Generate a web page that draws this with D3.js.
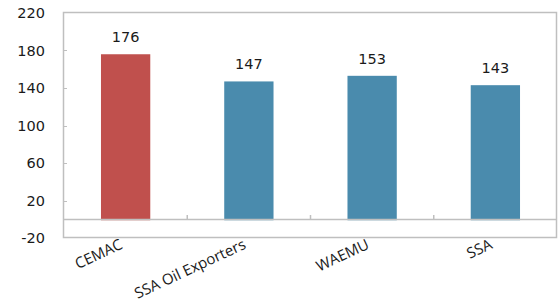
<!DOCTYPE html>
<html>
<head>
<meta charset="utf-8">
<script src="https://cdn.jsdelivr.net/npm/d3@7"></script>
<style>
  body { margin: 0; background: #fff; }
  svg { display: block; }
</style>
</head>
<body>
<svg id="chart" width="558" height="304"></svg>
<script>
//
// Data
//
const categories = ["CEMAC", "SSA Oil Exporters", "WAEMU", "SSA"];
const values = [176, 147, 153, 143];
const barColors = ["#c0504d", "#4a8bad", "#4a8bad", "#4a8bad"];
const yTicks = [-20, 20, 60, 100, 140, 180, 220];

//
// Layout
//
const width = 558, height = 304;
const plot = { left: 64, right: 557, top: 13, bottom: 238 };
const gridColor = "#bfbfbf";
const numFont = "DejaVu Sans";
const catFont = "Open Sans";

const svg = d3.select("#chart");

const x = d3.scaleBand()
  .domain(categories)
  .range([plot.left, plot.right])
  .paddingInner(0.6)
  .paddingOuter(0.3);

const y = d3.scaleLinear()
  .domain([-20, 220])
  .range([plot.bottom, plot.top]);

// frame around plot area
svg.append("rect")
  .attr("x", plot.left - 0.5)
  .attr("y", plot.top - 0.5)
  .attr("width", plot.right - plot.left)
  .attr("height", plot.bottom - plot.top)
  .attr("fill", "none")
  .attr("stroke", gridColor)
  .attr("stroke-width", 1.5);

// y axis (plain hyphen for negatives, like the original)
const yAxis = d3.axisLeft(y).tickValues(yTicks).tickFormat(d => String(d)).tickSize(0).tickPadding(19);
const gy = svg.append("g")
  .attr("transform", `translate(${plot.left},0)`)
  .call(yAxis);
gy.select(".domain").remove();
gy.selectAll("text")
  .attr("font-family", numFont)
  .attr("font-size", 14.5)
  .attr("fill", "#1a1a1a");

// small inner ticks on the left axis
svg.append("g")
  .selectAll("line")
  .data(yTicks.slice(1, -1))
  .join("line")
  .attr("x1", plot.left)
  .attr("x2", plot.left + 3)
  .attr("y1", d => Math.round(y(d)) + 0.5)
  .attr("y2", d => Math.round(y(d)) + 0.5)
  .attr("stroke", gridColor);

// bars
svg.append("g")
  .selectAll("rect")
  .data(values)
  .join("rect")
  .attr("x", (d, i) => x(categories[i]))
  .attr("y", d => y(d))
  .attr("width", x.bandwidth())
  .attr("height", d => y(0) - y(d) + 1)
  .attr("fill", (d, i) => barColors[i]);

// category axis at zero
svg.append("line")
  .attr("x1", plot.left)
  .attr("x2", plot.right)
  .attr("y1", Math.round(y(0)) + 0.5)
  .attr("y2", Math.round(y(0)) + 0.5)
  .attr("stroke", gridColor)
  .attr("stroke-width", 1.5);

svg.append("g")
  .selectAll("line")
  .data(categories.slice(1))
  .join("line")
  .attr("x1", d => x(d) - x.bandwidth() * 0.75)
  .attr("x2", d => x(d) - x.bandwidth() * 0.75)
  .attr("y1", Math.round(y(0)))
  .attr("y2", Math.round(y(0)) - 4)
  .attr("stroke", gridColor)
  .attr("stroke-width", 1.5);

// value labels
svg.append("g")
  .selectAll("text")
  .data(values)
  .join("text")
  .attr("x", (d, i) => x(categories[i]) + x.bandwidth() / 2)
  .attr("y", d => y(d) - 12)
  .attr("text-anchor", "middle")
  .attr("font-family", numFont)
  .attr("font-size", 14.5)
  .attr("fill", "#1a1a1a")
  .text(d => d);

// category labels, rotated
svg.append("g")
  .selectAll("text")
  .data(categories)
  .join("text")
  .attr("transform", d => `translate(${x(d) + x.bandwidth() / 2 - 2},${plot.bottom + 10}) rotate(-25)`)
  .attr("text-anchor", "end")
  .attr("font-family", catFont)
  .attr("font-size", 15)
  .attr("fill", "#1a1a1a")
  .text(d => d);
</script>
</body>
</html>
